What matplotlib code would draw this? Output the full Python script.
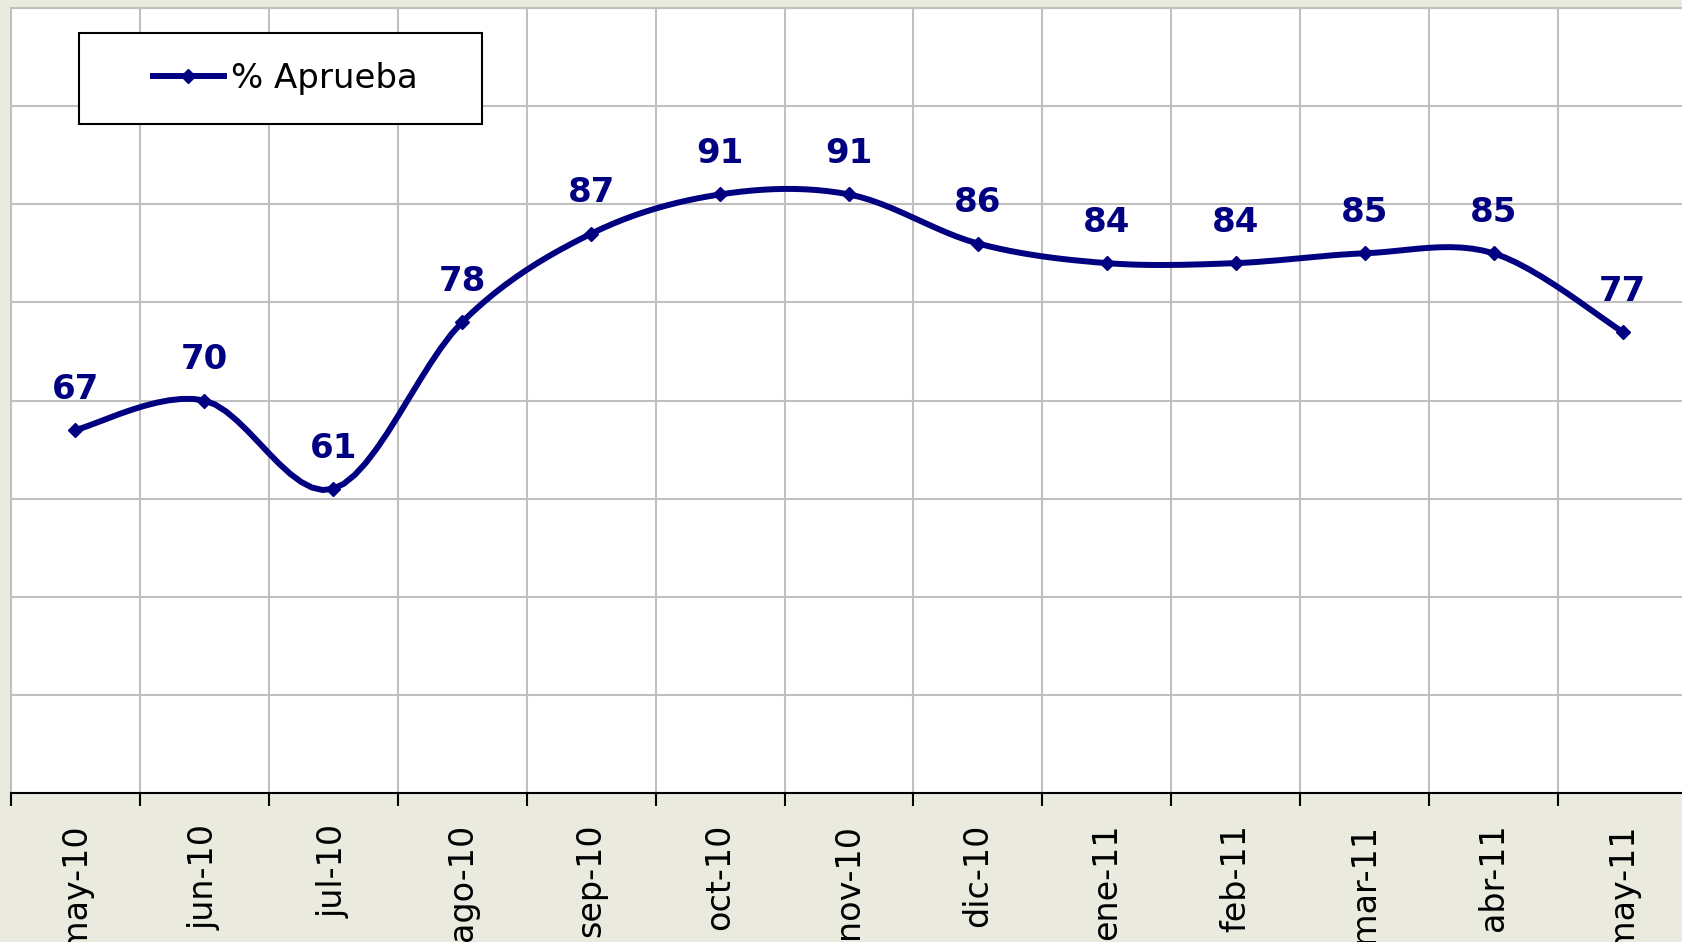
import numpy as np
import matplotlib.pyplot as plt
from matplotlib.lines import Line2D
from matplotlib.patches import Rectangle

meses = ['may-10', 'jun-10', 'jul-10', 'ago-10', 'sep-10', 'oct-10', 'nov-10',
         'dic-10', 'ene-11', 'feb-11', 'mar-11', 'abr-11', 'may-11']
aprueba = [67, 70, 61, 78, 87, 91, 91, 86, 84, 84, 85, 85, 77]

BG = '#EAEADF'
NAVY = '#000080'
GRID = '#C0C0C0'


def smooth(xs, ys, n=12):
    # Excel-style smoothed line: Catmull-Rom through the points as cubic Bezier
    p = np.column_stack([xs, ys]).astype(float)
    ext = np.vstack([p[0], p, p[-1]])
    out = []
    t = np.linspace(0, 1, n, endpoint=False)[:, None]
    for i in range(len(p) - 1):
        p0, p1, p2, p3 = ext[i], ext[i + 1], ext[i + 2], ext[i + 3]
        c1 = p1 + (p2 - p0) / 6
        c2 = p2 - (p3 - p1) / 6
        seg = ((1 - t) ** 3) * p1 + 3 * ((1 - t) ** 2) * t * c1 + 3 * (1 - t) * t ** 2 * c2 + t ** 3 * p2
        out.append(seg)
    out.append(p[-1][None, :])
    out = np.vstack(out)
    return out[:, 0], out[:, 1]


fig = plt.figure(figsize=(16.82, 9.42), dpi=100, facecolor=BG)
ax = fig.add_axes([11 / 1682, 149 / 942, 1676 / 1682, 785 / 942])
ax.set_facecolor('white')

x = np.arange(len(meses))
sx, sy = smooth(x, aprueba)
ax.plot(sx, sy, color=NAVY, lw=4.3, solid_joinstyle='round', zorder=4)
ax.plot(x, aprueba, ls='none', marker='D', ms=7.5, color=NAVY, zorder=5)

for xi, v in zip(x, aprueba):
    ax.annotate(str(v), (xi, v), xytext=(0, 22.5), textcoords='offset points',
                ha='center', va='baseline', fontsize=24.5, fontweight='bold',
                color=NAVY, zorder=6)

ax.set_xlim(-0.5, len(meses) - 0.5)
ax.set_ylim(30, 110)
ax.set_yticks(np.arange(30, 111, 10))
ax.set_yticklabels([])
ax.tick_params(axis='y', length=0)

ax.set_xticks(np.arange(len(meses) + 1) - 0.5)
ax.set_xticklabels([])
ax.set_xticks(x, minor=True)
ax.set_xticklabels(meses, minor=True, rotation=90, fontsize=24)
ax.tick_params(axis='x', which='major', length=9.5, width=1.5, color='black', direction='out')
ax.tick_params(axis='x', which='minor', length=0, pad=22)

ax.grid(True, which='major', color=GRID, lw=1.5, zorder=1)
ax.set_axisbelow(True)
for s in ['top', 'left', 'right']:
    ax.spines[s].set_color(GRID)
    ax.spines[s].set_linewidth(1.5)
ax.spines['bottom'].set_color('black')
ax.spines['bottom'].set_linewidth(1.5)

# legend box (wide horizontal padding like the Excel legend)
box = Rectangle((0.0406, 0.852), 0.2405, 0.116, transform=ax.transAxes,
                facecolor='white', edgecolor='black', lw=1.5, zorder=7)
ax.add_patch(box)
handle = Line2D([], [], color=NAVY, lw=4.3, marker='D', ms=7.5)
leg = ax.legend([handle], ['% Aprueba'], loc='center',
                bbox_to_anchor=(0.1635, 0.910), fontsize=24.5,
                frameon=False, handlelength=2.1, handletextpad=0.2,
                borderaxespad=0, borderpad=0)
leg.set_zorder(8)

fig.savefig('out.png', dpi=100, facecolor=BG)
